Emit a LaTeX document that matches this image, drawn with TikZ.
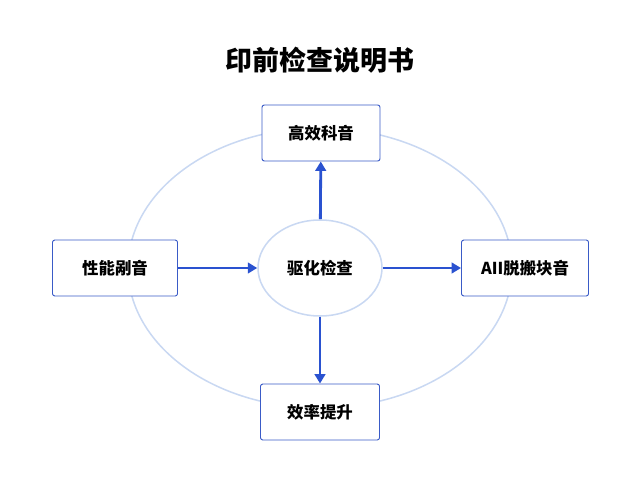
\documentclass[tikz,border=0pt]{standalone}
\usepackage{fontspec}
\newfontfamily\cjk{Noto Sans CJK SC}
\usetikzlibrary{arrows.meta,shapes.geometric}
\definecolor{boxblue}{HTML}{3A5BC7}
\definecolor{ringblue}{HTML}{C9D8F2}
\definecolor{arrowblue}{HTML}{2A52D0}
\tikzset{
  box/.style={draw=boxblue,rounded corners=2pt,fill=white,minimum height=1.68cm,line width=0.8pt,font=\cjk\fontsize{14}{16}\selectfont\bfseries},
  link/.style={draw=arrowblue,line width=2.4pt,-{Triangle[length=8pt,width=9pt]}}
}
\begin{document}
\begin{tikzpicture}[x=0.03cm,y=-0.03cm]
        \useasboundingbox (0,0) rectangle (640,480);
        \draw[ringblue,line width=1.3pt] (320,268) ellipse [x radius=192,y radius=140];
        \node[font=\cjk\fontsize{23}{27}\selectfont\bfseries] (title) at (320,60) {印前检查说明书};
        \node[draw=ringblue,line width=1.3pt,fill=white,ellipse,minimum width=3.72cm,minimum height=2.88cm,font=\cjk\fontsize{14}{16}\selectfont\bfseries] (center) at (320,268) {驱化检查};
        \node[box,minimum width=3.54cm] (top) at (321,133) {高效科音};
        \node[box,minimum width=3.57cm] (bottom) at (320,412) {效率提升};
        \node[box,minimum width=3.75cm] (left) at (115,268) {性能剐音};
        \node[box,minimum width=3.81cm] (right) at (525,268) {AII脱搬块音};
        \draw[link] (center) -- (top);
        \draw[link] (center) -- (bottom);
        \draw[link] (left) -- (center);
        \draw[link] (center) -- (right);
\end{tikzpicture}
\end{document}
